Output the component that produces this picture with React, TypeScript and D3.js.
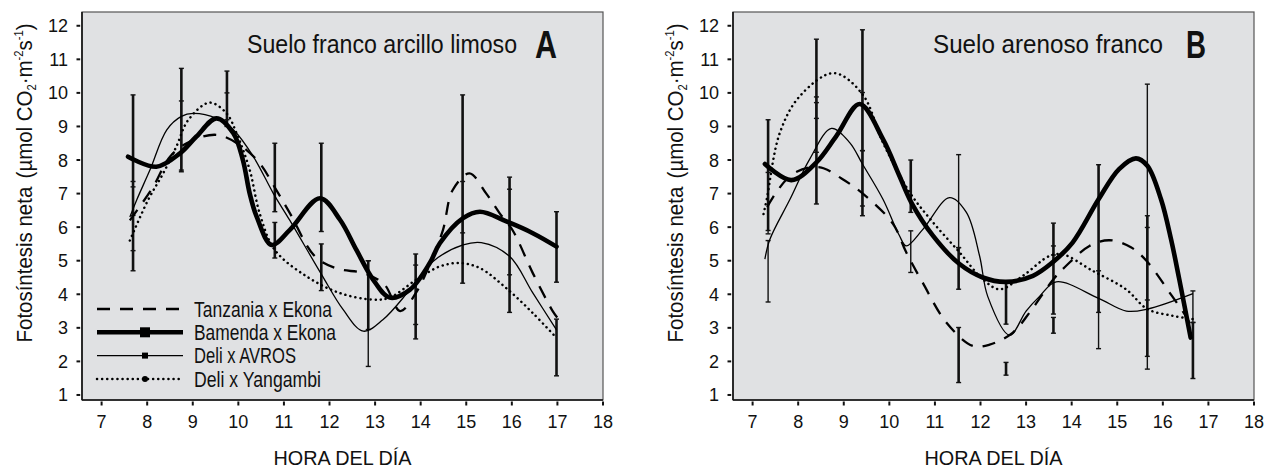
import React from 'react'
import * as d3 from 'd3'

// ejes
const horas = d3.range(7, 19)
const valores = d3.range(1, 13)
const nombres = ['Tanzania x Ekona', 'Bamenda x Ekona', 'Deli x AVROS', 'Deli x Yangambi']

// curvas ajustadas, panel A  [hora, fotosíntesis]
const tanzaniaA = [[7.62,6.2],[8.13,7.2],[8.5,8.1],[8.94,8.55],[9.52,8.75],[10.03,8.45],[10.47,7.9],[10.77,7.25],[11.13,6.42],[11.68,5.13],[12.18,4.76],[12.74,4.63],[13.2,4.3],[13.55,3.5],[13.9,4.05],[14.2,4.9],[14.49,5.92],[14.7,7.1],[15.07,7.6],[15.44,7.0],[15.73,6.42],[16.02,5.9],[16.46,4.63],[16.9,3.49],[17.0,3.3]]
const bamendaA = [[7.58,8.1],[8.2,7.8],[8.72,8.2],[9.08,8.7],[9.52,9.24],[9.89,8.8],[10.1,8.0],[10.25,7.0],[10.4,6.32],[10.73,5.47],[11.13,5.92],[11.79,6.86],[12.23,6.22],[12.59,5.32],[12.96,4.43],[13.32,3.9],[13.76,4.13],[14.2,4.93],[14.42,5.52],[14.93,6.27],[15.3,6.46],[15.88,6.17],[16.46,5.82],[16.98,5.42]]
const avrosA = [[7.62,6.3],[7.77,6.81],[8.06,7.7],[8.43,8.9],[8.75,9.3],[9.01,9.39],[9.52,9.24],[9.89,8.9],[10.33,8.1],[10.77,7.0],[11.13,6.2],[11.82,4.6],[12.3,3.54],[12.74,2.9],[13.17,3.24],[13.76,4.13],[14.27,4.98],[14.93,5.47],[15.33,5.54],[15.95,5.13],[16.46,4.04],[16.98,2.94]]
const yangambiA = [[7.62,5.6],[8.02,6.81],[8.35,7.6],[8.64,8.4],[8.9,9.19],[9.37,9.71],[9.74,9.39],[9.96,8.8],[10.25,7.7],[10.47,6.4],[10.8,5.32],[11.5,4.53],[12.22,4.04],[12.95,3.84],[13.32,3.9],[13.9,4.43],[14.42,4.83],[14.86,4.93],[15.3,4.78],[15.88,4.18],[16.46,3.44],[16.98,2.7]]

// curvas ajustadas, panel B
const tanzaniaB = [[7.32,6.6],[7.52,7.04],[7.9,7.6],[8.45,7.79],[8.95,7.45],[9.47,6.94],[10.08,6.1],[10.37,5.25],[10.73,4.35],[11.25,3.16],[11.83,2.46],[12.2,2.5],[12.71,2.86],[13.1,3.5],[13.6,4.45],[13.88,4.85],[14.39,5.44],[14.83,5.61],[15.3,5.4],[15.64,5.0],[16.2,3.95],[16.5,3.36],[16.64,3.0]]
const bamendaB = [[7.27,7.88],[7.85,7.4],[8.4,7.93],[8.84,8.72],[9.35,9.67],[9.86,8.62],[10.22,7.53],[10.48,6.74],[10.96,5.74],[11.54,4.9],[12.05,4.5],[12.56,4.37],[13.15,4.55],[13.58,4.95],[14.02,5.54],[14.59,6.83],[15.04,7.73],[15.41,8.05],[15.66,7.83],[15.96,6.83],[16.18,5.64],[16.36,4.45],[16.61,2.71]]
const avrosB = [[7.27,5.05],[7.38,5.64],[7.82,6.83],[8.25,8.02],[8.73,8.94],[9.13,8.52],[9.41,7.88],[9.86,6.83],[10.22,5.75],[10.37,5.44],[10.74,5.94],[11.32,6.88],[11.69,6.44],[11.98,5.14],[12.16,3.93],[12.64,2.78],[13.0,3.5],[13.29,3.93],[13.66,4.37],[14.59,3.88],[15.2,3.5],[15.66,3.56],[16.66,4.02]]
const yangambiB = [[7.24,6.39],[7.31,6.83],[7.6,8.82],[8.04,9.91],[8.78,10.59],[9.41,9.96],[9.86,8.52],[10.45,7.03],[10.96,6.14],[11.54,5.25],[12.05,4.45],[12.42,4.15],[12.93,4.55],[13.51,5.14],[13.8,5.19],[14.46,4.7],[15.19,4.15],[15.66,3.56],[16.21,3.36],[16.66,3.26]]

// barras de error [hora, mínimo, máximo, serie]
const errA = [[7.69,4.7,9.94,1],[7.69,5.3,7.2,2],[7.69,6.35,7.36,2],[8.75,7.65,10.73,1],[8.75,7.7,9.76,2],[9.75,9.0,10.65,1],[9.75,9.2,10.0,2],[10.8,6.46,8.5,1],[10.8,5.08,6.14,1],[11.82,5.87,8.5,1],[11.82,4.11,5.5,1],[12.85,2.95,5.0,1],[12.85,1.85,5.0,2],[13.89,2.67,5.2,1],[13.89,3.1,4.87,2],[14.92,4.33,9.94,1],[14.92,5.83,7.36,2],[15.95,3.46,7.49,1],[15.95,4.58,7.13,2],[16.98,4.36,6.46,1],[16.98,1.57,3.26,1]]
const errB = [[7.34,5.9,9.2,1],[7.34,3.77,5.6,2],[7.34,5.8,7.63,2],[8.4,6.69,11.6,1],[8.4,8.23,9.71,2],[8.4,9.24,9.88,2],[9.41,6.34,11.88,1],[9.41,6.63,8.28,2],[9.41,8.28,10.01,2],[10.47,6.44,8.0,1],[10.47,4.65,5.89,2],[11.52,5.39,8.16,2],[11.52,4.15,5.39,1],[11.52,1.37,3.01,1],[12.56,3.11,4.35,1],[12.56,1.59,1.97,1],[13.6,3.41,6.12,1],[13.6,2.84,3.31,1],[13.6,5.17,5.44,2],[14.59,3.46,7.86,1],[14.59,2.38,4.7,2],[15.66,1.77,10.26,2],[15.66,2.15,6.34,1],[15.66,3.83,5.99,2],[16.66,1.49,3.16,1],[16.66,3.16,4.1,2]]

const paneles = [
  { titulo: 'Suelo franco arcillo limoso', letra: 'A', series: [tanzaniaA, bamendaA, avrosA, yangambiA], err: errA, leyenda: true, left: 82, tituloX: 165, tituloW: 270, letraW: 22 },
  { titulo: 'Suelo arenoso franco', letra: 'B', series: [tanzaniaB, bamendaB, avrosB, yangambiB], err: errB, leyenda: false, left: 733, tituloX: 200, tituloW: 230, letraW: 20 },
]

const estilos = [
  { w: 2.3, dash: '13,10', cap: 'butt' },
  { w: 4.6, dash: undefined, cap: 'round' },
  { w: 1.3, dash: undefined, cap: 'butt' },
  { w: 2.5, dash: '0.1,5', cap: 'round' },
]
const anchoLeyenda = [138, 142, 102, 127]

const FONT = "'Liberation Sans', Arial, sans-serif"
const W = 521
const H = 388
const TOP = 12

const Panel = ({ p }) => {
  const x = d3.scaleLinear().domain([6.57, 18]).range([0, W])
  const y = d3.scaleLinear().domain([0.85, 12.41]).range([H, 0])
  const line = d3.line().x(d => x(d[0])).y(d => y(d[1])).curve(d3.curveCatmullRom.alpha(0.5))
  const legendY = [297, 320.3, 343.6, 367]

  return (
    <g transform={`translate(${p.left},${TOP})`} fontFamily={FONT} fill="#111">
      <rect width={W} height={H} fill="#e0e1e3" stroke="#555" strokeWidth={1.2} />
      <line x1={0} x2={0} y1={0} y2={H} stroke="#111" strokeWidth={1.6} />
      <line x1={0} x2={W} y1={H} y2={H} stroke="#111" strokeWidth={1.6} />
      {valores.map(v => (
        <g key={v} transform={`translate(0,${y(v)})`}>
          <line x1={-5.5} x2={-1.8} stroke="#111" strokeWidth={2} />
          <text x={-14} dy=".36em" textAnchor="end" fontSize={18}>{v}</text>
        </g>
      ))}
      {horas.map(h => (
        <g key={h} transform={`translate(${x(h)},${H})`}>
          <line y1={1.5} y2={5.5} stroke="#111" strokeWidth={2} />
          <text y={28} textAnchor="middle" fontSize={18}>{h}</text>
        </g>
      ))}
      {p.err.map((e, i) => (
        <g key={i} stroke="#111" strokeWidth={e[3] === 1 ? 2.6 : 1.4}>
          <line x1={x(e[0])} x2={x(e[0])} y1={y(e[1])} y2={y(e[2])} />
          <line x1={x(e[0]) - 2.5} x2={x(e[0]) + 2.5} y1={y(e[1])} y2={y(e[1])} strokeWidth={1.4} />
          <line x1={x(e[0]) - 2.5} x2={x(e[0]) + 2.5} y1={y(e[2])} y2={y(e[2])} strokeWidth={1.4} />
        </g>
      ))}
      {p.series.map((s, i) => (
        <path key={i} d={line(s)} fill="none" stroke="#000" strokeWidth={estilos[i].w}
          strokeDasharray={estilos[i].dash} strokeLinecap={estilos[i].cap} />
      ))}
      <text x={p.tituloX} y={41} fontSize={25} textLength={p.tituloW} lengthAdjust="spacingAndGlyphs">{p.titulo}</text>
      <text x={453} y={46} fontSize={38} fontWeight="bold" textLength={p.letraW} lengthAdjust="spacingAndGlyphs">{p.letra}</text>
      {p.leyenda && nombres.map((n, i) => (
        <g key={n} transform={`translate(0,${legendY[i]})`}>
          <line x1={15} x2={101} stroke="#000" strokeWidth={estilos[i].w}
            strokeDasharray={estilos[i].dash} strokeLinecap={i === 3 ? 'round' : 'butt'} />
          {i === 1 && <rect x={58} y={-5} width={10} height={10} fill="#000" />}
          {i === 2 && <rect x={60} y={-3} width={6} height={6} fill="#000" />}
          {i === 3 && <circle cx={63} cy={0} r={3} fill="#000" />}
          <text x={112} y={7.5} fontSize={22} textLength={anchoLeyenda[i]} lengthAdjust="spacingAndGlyphs">{n}</text>
        </g>
      ))}
      <text x={W / 2 - 69} y={H + 65} fontSize={21} textLength={138} lengthAdjust="spacingAndGlyphs">HORA DEL DÍA</text>
      <text transform={`translate(-50,171) rotate(-90) scale(0.93,1)`} textAnchor="middle" fontSize={22}>
        Fotosíntesis neta<tspan dx={9}>(µmol CO</tspan>
        <tspan fontSize={12} dy={4}>2</tspan>
        <tspan dy={-4}>·m</tspan>
        <tspan fontSize={12} dy={-9}>-2</tspan>
        <tspan dy={9}>s</tspan>
        <tspan fontSize={12} dy={-9}>-1</tspan>
        <tspan dy={9}>)</tspan>
      </text>
    </g>
  )
}

export default function App() {
  return (
    <svg width={1266} height={470} style={{ position: 'absolute', left: 0, top: 0, background: '#fff' }}>
      {paneles.map(p => <Panel key={p.letra} p={p} />)}
    </svg>
  )
}
